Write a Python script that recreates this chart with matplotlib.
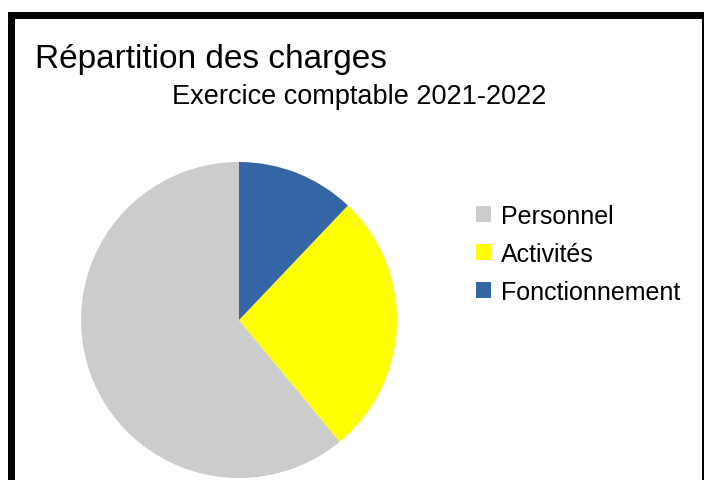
import matplotlib
matplotlib.use("Agg")
import matplotlib.pyplot as plt
from matplotlib.patches import Rectangle

plt.rcParams["font.family"] = ["Liberation Sans", "DejaVu Sans"]

# data (shares in %)
categories = ["Personnel", "Activités", "Fonctionnement"]
shares = [61.0, 26.9, 12.1]
colors = ["#cccccc", "#ffff00", "#3465a4"]

W, H = 705, 481
fig = plt.figure(figsize=(W / 100, H / 100), dpi=100)

def px(x, y):
    """pixel coords (from top-left) -> figure fraction"""
    return x / W, 1 - y / H

# pie centred at (239, 321) px, radius 158 px
cx, cy, r = 239, 321, 158
ax = fig.add_axes([(cx - r) / W, (H - cy - r) / H, 2 * r / W, 2 * r / H])
wedges, _ = ax.pie(shares, colors=colors, startangle=90, counterclock=True,
                   wedgeprops=dict(linewidth=0))
ax.set_xlim(-1, 1)
ax.set_ylim(-1, 1)
ax.set_aspect("equal")
ax.axis("off")

# frame: thick left/top, thin right
def frame_bar(x0, y0, x1, y1):
    fig.patches.append(Rectangle((x0 / W, 1 - y1 / H), (x1 - x0) / W, (y1 - y0) / H,
                                 transform=fig.transFigure, color="black",
                                 linewidth=0, zorder=5))

frame_bar(8, 13, 15, H)
frame_bar(8, 13, 704, 20)
frame_bar(702, 13, 704, H)

# titles
fig.text(*px(35, 68), "Répartition des charges", fontsize=24, ha="left", va="baseline")
fig.text(*px(359, 104), "Exercice comptable 2021-2022", fontsize=19.5,
         ha="center", va="baseline")

# legend
fig.legend(wedges, categories, loc="upper left", bbox_to_anchor=px(466, 195),
           frameon=False, fontsize=18, handlelength=0.6, handleheight=0.6,
           handletextpad=0.4, labelspacing=0.55, borderaxespad=0)

fig.savefig("out.png", dpi=100)
